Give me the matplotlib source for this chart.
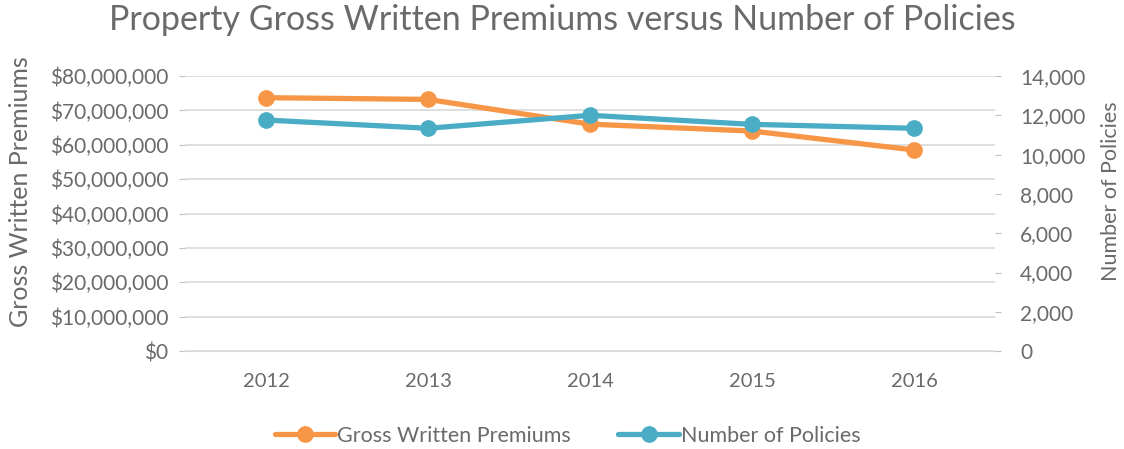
import matplotlib.pyplot as plt
from matplotlib.ticker import FuncFormatter, MultipleLocator

annees = ["2012", "2013", "2014", "2015", "2016"]
primes = [73700000, 73200000, 66000000, 64000000, 58500000]
polices = [11760, 11340, 12000, 11540, 11340]

ORANGE = "#F79646"
BLEU = "#4BACC6"
GRIS = "#6A6A6A"

plt.rcParams["font.family"] = ["Lato", "DejaVu Sans"]

fig = plt.figure(figsize=(11.24, 4.49), dpi=100)
ax = fig.add_axes([0.1646, 0.218, 0.7206, 0.6127])
ax2 = ax.twinx()

x = list(range(len(annees)))
l1, = ax.plot(x, primes, color=ORANGE, lw=3.8, marker="o", ms=11,
              label="Gross Written Premiums", solid_capstyle="round", zorder=3)
l2, = ax2.plot(x, polices, color=BLEU, lw=3.8, marker="o", ms=11,
               label="Number of Policies", solid_capstyle="round", zorder=3)

ax.set_xlim(-0.5, 4.5)
ax.set_ylim(0, 80000000)
ax2.set_ylim(0, 14000)
ax.yaxis.set_major_locator(MultipleLocator(10000000))
ax2.yaxis.set_major_locator(MultipleLocator(2000))
ax.yaxis.set_major_formatter(FuncFormatter(lambda v, p: f"${v:,.0f}"))
ax2.yaxis.set_major_formatter(FuncFormatter(lambda v, p: f"{v:,.0f}"))
ax.set_xticks(x)
ax.set_xticklabels(annees)

ax.grid(axis="y", color="#D9D9D9", lw=1.2)
ax.set_axisbelow(True)
for a in (ax, ax2):
    for s in a.spines.values():
        s.set_visible(False)
ax.spines["bottom"].set_visible(True)
ax.spines["bottom"].set_color("#D9D9D9")

ax.tick_params(axis="y", colors="#BFBFBF", labelcolor=GRIS, labelsize=15,
               length=4, pad=8)
ax2.tick_params(axis="y", colors="#BFBFBF", labelcolor=GRIS, labelsize=15,
                length=4, pad=14)
ax.tick_params(axis="x", length=0, labelcolor=GRIS, labelsize=14.5, pad=16)

ax.set_ylabel("Gross Written Premiums", color=GRIS, fontsize=18)
ax2.set_ylabel("Number of Policies", color=GRIS, fontsize=15.5)
ax.yaxis.set_label_coords(-0.189, 0.58)
ax2.yaxis.set_label_coords(1.131, 0.58)

fig.suptitle("Property Gross Written Premiums versus Number of Policies",
             color=GRIS, fontsize=24.5, y=0.99)

fig.legend(handles=[l1, l2], loc="center", bbox_to_anchor=(0.505, 0.03),
           ncol=2, frameon=False, fontsize=15.5, labelcolor=GRIS,
           handlelength=2.8, handletextpad=0.1, columnspacing=2.2)

fig.savefig("out.png", dpi=100)
